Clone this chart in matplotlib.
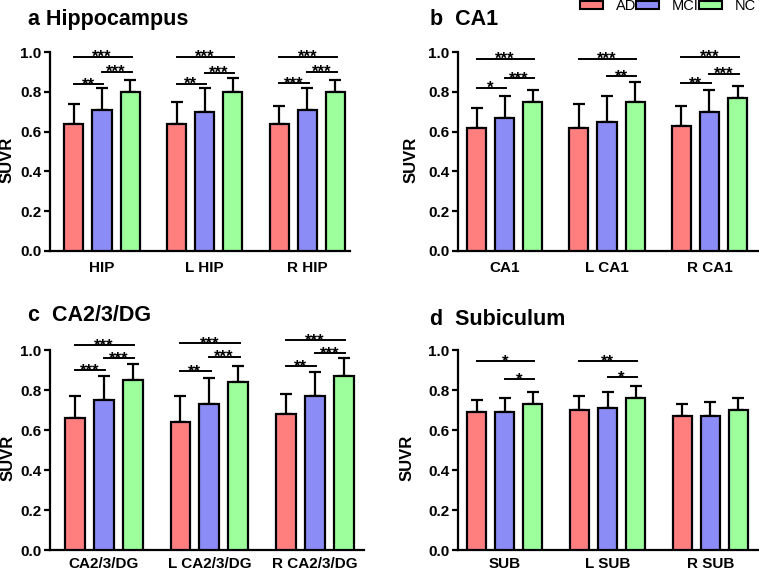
import numpy as np
import matplotlib
matplotlib.use('Agg')
import matplotlib.pyplot as plt
from matplotlib.patches import Patch

plt.rcParams['font.family'] = ['Liberation Sans', 'DejaVu Sans']
plt.rcParams['font.weight'] = 'bold'

groups = ['AD', 'MCI', 'NC']
colors = ['#FF7F7F', '#8C8CF7', '#9CFF9C']

# panel a - hippocampus
a_labels = ['HIP', 'L HIP', 'R HIP']
a_mean = [[0.64, 0.64, 0.64], [0.71, 0.70, 0.71], [0.80, 0.80, 0.80]]
a_err = [[0.10, 0.11, 0.09], [0.11, 0.12, 0.11], [0.06, 0.07, 0.06]]
a_sig = [(0, 0, 2, 0.977, '***'), (0, 0, 1, 0.839, '**'), (0, 1, 2, 0.901, '***'),
         (1, 0, 2, 0.977, '***'), (1, 0, 1, 0.840, '**'), (1, 1, 2, 0.896, '***'),
         (2, 0, 2, 0.977, '***'), (2, 0, 1, 0.842, '***'), (2, 1, 2, 0.901, '***')]

# panel b - CA1
b_labels = ['CA1', 'L CA1', 'R CA1']
b_mean = [[0.62, 0.62, 0.63], [0.67, 0.65, 0.70], [0.75, 0.75, 0.77]]
b_err = [[0.10, 0.12, 0.10], [0.11, 0.13, 0.11], [0.06, 0.10, 0.06]]
b_sig = [(0, 0, 2, 0.966, '***'), (0, 0, 1, 0.820, '*'), (0, 1, 2, 0.867, '***'),
         (1, 0, 2, 0.966, '***'), (1, 1, 2, 0.877, '**'),
         (2, 0, 2, 0.977, '***'), (2, 0, 1, 0.842, '**'), (2, 1, 2, 0.890, '***')]

# panel c - CA2/3/DG
c_labels = ['CA2/3/DG', 'L CA2/3/DG', 'R CA2/3/DG']
c_mean = [[0.66, 0.64, 0.68], [0.75, 0.73, 0.77], [0.85, 0.84, 0.87]]
c_err = [[0.11, 0.13, 0.10], [0.12, 0.13, 0.12], [0.08, 0.08, 0.09]]
c_sig = [(0, 0, 2, 1.025, '***'), (0, 0, 1, 0.900, '***'), (0, 1, 2, 0.958, '***'),
         (1, 0, 2, 1.035, '***'), (1, 0, 1, 0.895, '**'), (1, 1, 2, 0.967, '***'),
         (2, 0, 2, 1.050, '***'), (2, 0, 1, 0.920, '**'), (2, 1, 2, 0.983, '***')]

# panel d - subiculum
d_labels = ['SUB', 'L SUB', 'R SUB']
d_mean = [[0.69, 0.70, 0.67], [0.69, 0.71, 0.67], [0.73, 0.76, 0.70]]
d_err = [[0.06, 0.07, 0.06], [0.07, 0.08, 0.07], [0.06, 0.06, 0.06]]
d_sig = [(0, 0, 2, 0.943, '*'), (0, 1, 2, 0.855, '*'),
         (1, 0, 2, 0.943, '**'), (1, 1, 2, 0.863, '*')]

W, H = 759, 572
fig = plt.figure(figsize=(W / 100, H / 100), dpi=100)

G = 3.65
gx = np.arange(3) * G
off = [-1, 0, 1]
bw = 0.68
fs = 11


def panel(rect, xlim, labels, mean, err, sig, title, tpos, ylx, xpad):
    l, t, w, h = rect
    ax = fig.add_axes([l / W, 1 - (t + h) / H, w / W, h / H])
    for k in range(3):
        x = gx + off[k]
        ax.bar(x, mean[k], bw, color=colors[k], edgecolor='black', linewidth=1.6, zorder=3)
        ax.errorbar(x, mean[k], yerr=[np.zeros(3), err[k]], fmt='none', ecolor='black',
                    elinewidth=1.6, capsize=4.5, capthick=1.6, zorder=2)
    for g, i, j, y, s in sig:
        x0 = gx[g] + off[i]
        x1 = gx[g] + off[j]
        ax.plot([x0, x1 + 0.05], [y, y], color='black', lw=1.4, clip_on=False, zorder=4)
        ax.annotate(s, ((x0 + x1) / 2, y), xytext=(0, -3.8), textcoords='offset points',
                    ha='center', va='baseline', fontsize=12, fontweight='bold',
                    annotation_clip=False)
    ax.set_xlim(*xlim)
    ax.set_ylim(0, 1.0)
    ax.set_yticks(np.arange(0, 1.01, 0.2))
    ax.set_yticklabels(['%.1f' % v for v in np.arange(0, 1.01, 0.2)])
    ax.set_xticks(gx)
    ax.set_xticklabels(labels)
    ax.tick_params(axis='x', length=0, pad=xpad, labelsize=fs)
    ax.tick_params(axis='y', length=4, width=1.6, pad=2, labelsize=fs)
    for sp in ['top', 'right']:
        ax.spines[sp].set_visible(False)
    for sp in ['left', 'bottom']:
        ax.spines[sp].set_linewidth(1.6)
    ax.set_ylabel('SUVR', fontsize=12, fontweight='bold')
    ax.yaxis.set_label_coords(ylx, 0.46)
    fig.text(tpos[0] / W, 1 - tpos[1] / H, title, fontsize=15.5, fontweight='bold',
             ha='left', va='baseline')
    return ax


panel((50, 52, 300, 199), (-1.85, 8.82), a_labels, a_mean, a_err, a_sig,
      'a Hippocampus', (28, 25), -0.117, 7)
panel((458, 52, 300, 199), (-1.66, 9.03), b_labels, b_mean, b_err, b_sig,
      'b  CA1', (430, 25), -0.133, 7)
panel((50, 350, 314, 200), (-1.86, 9.0), c_labels, c_mean, c_err, c_sig,
      'c  CA2/3/DG', (28, 321), -0.11, 5)
panel((458, 350, 301, 200), (-1.66, 9.03), d_labels, d_mean, d_err, d_sig,
      'd  Subiculum', (430, 325), -0.143, 5)

handles = [Patch(facecolor=c, edgecolor='black', linewidth=1.5) for c in colors]
leg = fig.legend(handles, groups, ncol=3, loc='center left',
                 bbox_to_anchor=(580 / W, 1 - 6 / H), frameon=False,
                 handlelength=1.6, handleheight=0.45, handletextpad=0.85,
                 columnspacing=0.0, borderpad=0, borderaxespad=0,
                 prop={'size': 10.5, 'weight': 'normal'})

fig.savefig('out.png', dpi=100)
